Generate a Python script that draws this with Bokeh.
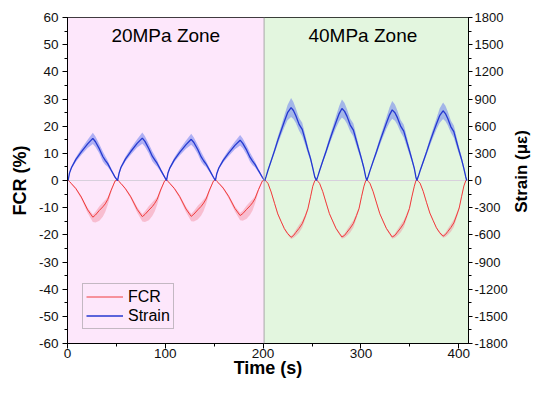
import math
from bokeh.plotting import figure
from bokeh.layouts import row
from bokeh.models import (Range1d, LinearAxis, SingleIntervalTicker, BoxAnnotation,
                          Span, Label, Legend, LegendItem, PrintfTickFormatter)
from bokeh.core.properties import value
from bokeh.embed import file_html
from bokeh.resources import INLINE

# ---------------- data ----------------
zone_names = ["20MPa Zone", "40MPa Zone"]
zone_start = [0, 201]
zone_end = [201, 410]

# 20 MPa zone (4 cycles)
t20 = [0.6, 2.1, 4.1, 8.6, 14.1, 20.6, 25.9, 28.6, 32.6, 36.1, 38.6, 41.1, 44.6, 48.6, 51.2,
       52.7, 54.7, 59.2, 64.7, 71.2, 76.5, 79.2, 83.2, 86.7, 89.2, 91.7, 95.2, 99.2, 101.2,
       102.7, 104.7, 109.2, 114.7, 121.2, 126.5, 129.2, 133.2, 136.7, 139.2, 141.7, 145.2, 149.2, 151.2,
       152.7, 154.7, 159.2, 164.7, 171.2, 176.5, 179.2, 183.2, 186.7, 189.2, 191.7, 195.2, 199.2, 201.4]
strain20 = [0, 84, 144, 233, 316, 405, 465, 428, 349, 265, 223, 186, 116, 37, 0,
            80, 146, 236, 320, 410, 468, 432, 350, 268, 228, 188, 118, 40, 0,
            82, 140, 228, 310, 396, 455, 420, 342, 260, 218, 182, 114, 36, 0,
            78, 138, 222, 303, 388, 445, 410, 335, 255, 214, 178, 111, 36, 0]
strain20_err = [5, 10, 15, 25, 35, 45, 62, 58, 50, 55, 48, 35, 20, 10, 5,
                10, 15, 25, 35, 46, 62, 58, 52, 55, 48, 35, 20, 10, 5,
                10, 15, 25, 35, 45, 60, 56, 50, 54, 46, 34, 20, 10, 5,
                10, 14, 24, 34, 44, 58, 55, 50, 52, 45, 33, 20, 10, 5]
fcr20 = [0.2, -0.4, -1.2, -3.0, -6.1, -10.8, -13.5, -12.7, -11.0, -9.7, -8.6, -7.0, -3.6, -0.2, 0.3,
         -0.4, -1.1, -3.0, -6.0, -10.6, -13.3, -12.5, -10.9, -9.6, -8.4, -6.9, -3.5, -0.2, 0.3,
         -0.3, -1.1, -2.9, -5.9, -10.5, -13.2, -12.4, -10.8, -9.5, -8.3, -6.8, -3.5, -0.2, 0.3,
         -0.3, -1.0, -2.8, -5.8, -10.3, -12.9, -12.2, -10.6, -9.3, -8.2, -6.7, -3.4, -0.2, 0.2]
fcr20_err_lo = [0, 0.1, 0.2, 0.4, 0.7, 1.2, 1.8, 2.8, 3.8, 3.6, 3.0, 2.0, 0.8, 0.2, 0,
                0.1, 0.2, 0.4, 0.7, 1.2, 1.8, 2.8, 3.7, 3.5, 3.0, 2.0, 0.8, 0.2, 0,
                0.1, 0.2, 0.4, 0.7, 1.2, 1.8, 2.7, 3.6, 3.4, 2.9, 1.9, 0.8, 0.2, 0,
                0.1, 0.2, 0.4, 0.7, 1.1, 1.7, 2.6, 3.5, 3.3, 2.8, 1.9, 0.8, 0.2, 0]
fcr20_err_hi = [0, 0.1, 0.2, 0.3, 0.5, 0.8, 1.0, 1.2, 1.5, 1.6, 1.4, 0.8, 0.4, 0.1, 0,
                0.1, 0.2, 0.3, 0.5, 0.8, 1.0, 1.2, 1.5, 1.6, 1.4, 0.8, 0.4, 0.1, 0,
                0.1, 0.2, 0.3, 0.5, 0.8, 1.0, 1.2, 1.5, 1.5, 1.3, 0.8, 0.4, 0.1, 0,
                0.1, 0.2, 0.3, 0.5, 0.8, 1.0, 1.1, 1.4, 1.5, 1.3, 0.8, 0.4, 0.1, 0]

# 40 MPa zone (4 cycles)
t40 = [201.7, 203.2, 205.0, 208.2, 211.7, 215.0, 218.3, 221.7, 225.0, 228.6, 231.0, 233.5, 236.8, 240.0, 243.3, 245.8, 248.5, 250.8, 252.8, 254.5,
       256.0, 257.8, 261.0, 264.5, 267.8, 271.1, 274.5, 277.8, 280.6, 283.3, 285.8, 289.1, 292.3, 295.5, 298.1, 300.6, 303.1, 304.9, 306.0,
       307.5, 309.3, 312.5, 316.0, 319.3, 322.6, 326.0, 329.3, 332.0, 334.8, 337.3, 340.6, 343.8, 347.0, 349.6, 352.1, 354.6, 356.2, 357.2,
       358.7, 360.5, 363.7, 367.2, 370.5, 373.8, 377.2, 380.5, 384.0, 386.4, 388.8, 392.0, 395.0, 398.0, 400.5, 403.0, 405.3, 407.2, 408.2]
strain40 = [0, 48, 113, 217, 330, 443, 547, 652, 749, 805, 773, 716, 620, 564, 439, 338, 242, 137, 40, 0,
            48, 111, 215, 326, 437, 541, 644, 739, 795, 763, 708, 612, 557, 433, 334, 239, 135, 40, 0,
            47, 109, 211, 320, 429, 530, 632, 725, 780, 749, 694, 601, 546, 425, 328, 234, 133, 39, 0,
            46, 108, 208, 316, 424, 524, 624, 716, 770, 739, 685, 593, 539, 420, 323, 231, 131, 39, 0]
strain40_err = [5, 8, 12, 20, 30, 40, 50, 65, 85, 105, 95, 80, 70, 75, 55, 40, 30, 20, 10, 5,
                8, 12, 20, 30, 40, 50, 65, 85, 100, 92, 80, 70, 72, 55, 40, 30, 20, 10, 5,
                8, 12, 20, 30, 40, 50, 64, 84, 98, 90, 78, 68, 70, 54, 40, 30, 20, 10, 5,
                8, 12, 20, 30, 40, 50, 62, 80, 92, 86, 76, 66, 68, 52, 40, 30, 20, 10, 5]
fcr40 = [0.2, -0.3, -1.1, -4.2, -8.4, -12.3, -15.0, -17.7, -19.5, -20.9, -20.3, -19.1, -17.6, -15.9, -13.0, -10.4, -6.0, -2.1, -0.1, 0.3,
         -0.3, -1.1, -4.1, -8.3, -12.2, -14.9, -17.6, -19.4, -20.8, -20.2, -19.0, -17.5, -15.8, -12.9, -10.3, -6.0, -2.1, -0.1, 0.3,
         -0.3, -1.1, -4.1, -8.3, -12.2, -14.9, -17.6, -19.4, -20.8, -20.2, -19.0, -17.5, -15.8, -12.9, -10.3, -6.0, -2.1, -0.1, 0.3,
         -0.3, -1.0, -4.0, -8.2, -12.0, -14.7, -17.4, -19.2, -20.5, -19.9, -18.8, -17.3, -15.6, -12.7, -10.1, -5.8, -2.0, -0.1, 0.3]
fcr40_err_lo = [0, 0, 0.1, 0.2, 0.3, 0.3, 0.3, 0.4, 0.5, 0.6, 0.9, 1.3, 1.6, 1.5, 1.0, 0.6, 0.4, 0.2, 0.1, 0,
                0, 0.1, 0.2, 0.3, 0.3, 0.3, 0.4, 0.5, 0.6, 0.9, 1.3, 1.6, 1.5, 1.0, 0.6, 0.4, 0.2, 0.1, 0,
                0, 0.1, 0.2, 0.3, 0.3, 0.3, 0.4, 0.5, 0.6, 0.9, 1.3, 1.6, 1.5, 1.0, 0.6, 0.4, 0.2, 0.1, 0,
                0, 0.1, 0.2, 0.3, 0.3, 0.3, 0.4, 0.5, 0.6, 0.9, 1.3, 1.6, 1.5, 1.0, 0.6, 0.4, 0.2, 0.1, 0]
fcr40_err_hi = [0, 0, 0.1, 0.2, 0.3, 0.3, 0.3, 0.3, 0.4, 0.5, 0.7, 1.0, 1.3, 1.2, 0.8, 0.5, 0.3, 0.2, 0.1, 0,
                0, 0.1, 0.2, 0.3, 0.3, 0.3, 0.3, 0.4, 0.5, 0.7, 1.0, 1.3, 1.2, 0.8, 0.5, 0.3, 0.2, 0.1, 0,
                0, 0.1, 0.2, 0.3, 0.3, 0.3, 0.3, 0.4, 0.5, 0.7, 1.0, 1.3, 1.2, 0.8, 0.5, 0.3, 0.2, 0.1, 0,
                0, 0.1, 0.2, 0.3, 0.3, 0.3, 0.3, 0.4, 0.5, 0.7, 1.0, 1.3, 1.2, 0.8, 0.5, 0.3, 0.2, 0.1, 0]

# ---------------- derived ----------------
t = t20 + t40
strain = strain20 + strain40
strain_err = strain20_err + strain40_err
fcr = fcr20 + fcr40
fcr_lo = [v - e for v, e in zip(fcr, fcr20_err_lo + fcr40_err_lo)]
fcr_hi = [v + e for v, e in zip(fcr, fcr20_err_hi + fcr40_err_hi)]
strain_lo = [v - e for v, e in zip(strain, strain_err)]
strain_hi = [v + e for v, e in zip(strain, strain_err)]

FONT = "Liberation Sans"
W_TOTAL, H = 531, 381
W_SIDE = 21
W = W_TOTAL - W_SIDE            # 510
BL, BR, BT, BB = 67, 40, 17, 38  # frame 403 x 326

p = figure(width=W, height=H, x_range=Range1d(0, 410), y_range=Range1d(-60, 60),
           output_backend="svg", toolbar_location=None,
           min_border_left=BL, min_border_right=BR, min_border_top=BT, min_border_bottom=BB)
p.extra_y_ranges = {"strain": Range1d(-1800, 1800)}
p.xgrid.visible = False
p.ygrid.visible = False
p.outline_line_color = "black"
p.outline_line_width = 1
p.background_fill_color = "white"
p.border_fill_color = "white"

zone_colors = ["#fde7fb", "#e3f6df"]
for s, e, c in zip(zone_start, zone_end, zone_colors):
    p.add_layout(BoxAnnotation(left=s, right=e, fill_color=c, fill_alpha=1.0,
                               line_alpha=0, level="underlay"))

p.add_layout(Span(location=0, dimension="width", line_color="#d8d0dc", line_width=1, level="underlay"))

# bands
p.varea(x=t, y1=fcr_lo, y2=fcr_hi, fill_color="#f07f92", fill_alpha=0.4)
p.varea(x=t, y1=strain_lo, y2=strain_hi, fill_color="#6f82ee", fill_alpha=0.55, y_range_name="strain")

r_fcr = p.line(t, fcr, line_color="#f03c3c", line_width=1)
r_str = p.line(t, strain, line_color="#2438d0", line_width=1.3, y_range_name="strain")

p.add_layout(Span(location=zone_end[0], dimension="height", line_color="#a8a8a8", line_width=1))

# axes
def style_axis(ax, interval, label, standoff=5, label_standoff=5, size="13.5px", tick_out=5):
    ax.ticker = SingleIntervalTicker(interval=interval, num_minor_ticks=2)
    ax.formatter = PrintfTickFormatter(format="%d")
    ax.axis_label = label
    ax.axis_label_text_font = FONT
    ax.axis_label_text_font_style = "bold"
    ax.axis_label_text_font_size = "18px"
    ax.axis_label_text_color = "black"
    ax.axis_label_standoff = label_standoff
    ax.major_label_text_font = FONT
    ax.major_label_text_font_size = size
    ax.major_label_text_color = "#111111"
    ax.major_label_standoff = standoff
    ax.major_tick_in = 0
    ax.major_tick_out = tick_out
    ax.minor_tick_in = 0
    ax.minor_tick_out = 3
    ax.axis_line_color = "black"
    ax.major_tick_line_color = "black"
    ax.minor_tick_line_color = "black"

style_axis(p.xaxis[0], 100, "Time (s)", standoff=0, label_standoff=-3)
style_axis(p.yaxis[0], 10, "FCR (%)", standoff=4, label_standoff=6)

ry = LinearAxis(y_range_name="strain")
style_axis(ry, 300, None, standoff=2, label_standoff=0, size="13px", tick_out=4)
p.add_layout(ry, "right")

# zone labels
p.add_layout(Label(x=100.5, y=53.3, text=zone_names[0], text_align="center", text_baseline="middle",
                   text_font=FONT, text_font_size="19px", text_color="black"))
p.add_layout(Label(x=302, y=53.3, text=zone_names[1], text_align="center", text_baseline="middle",
                   text_font=FONT, text_font_size="19px", text_color="black"))

legend = Legend(items=[LegendItem(label="FCR", renderers=[r_fcr]),
                       LegendItem(label="Strain", renderers=[r_str])],
                location=(15, 14), padding=3, spacing=0, margin=0,
                glyph_width=37, glyph_height=19, label_height=19, label_standoff=5,
                label_text_font=FONT, label_text_font_size="16px", label_text_color="black",
                border_line_color="#8a8a8a", border_line_width=1,
                background_fill_alpha=0)
p.add_layout(legend, "center")

# narrow side panel carrying the right-axis title (reads bottom-to-top)
side = figure(width=W_SIDE, height=H, x_range=Range1d(0, W_SIDE), y_range=Range1d(0, H),
              output_backend="svg", toolbar_location=None, x_axis_type=None, y_axis_type=None,
              min_border=0, min_border_left=0, min_border_right=0, min_border_top=0, min_border_bottom=0)
side.xgrid.visible = False
side.ygrid.visible = False
side.outline_line_color = None
side.background_fill_color = "white"
side.border_fill_color = "white"
side.text(x=[W_SIDE / 2], y=[H - BT - 163], text=["Strain (με)"], angle=math.pi / 2,
          text_align="center", text_baseline="middle", text_font=value(FONT),
          text_font_size=value("17px"), text_font_style="bold", text_color="black")

layout = row(p, side, spacing=0)
open("out.html", "w").write(file_html(layout, INLINE))
